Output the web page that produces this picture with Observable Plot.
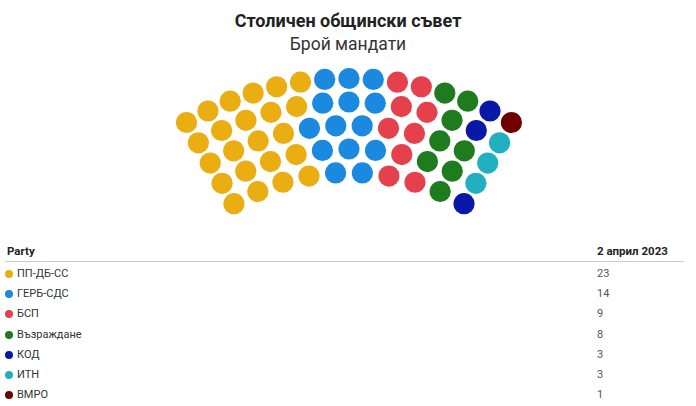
<!DOCTYPE html>
<html>
<head>
<meta charset="utf-8">
<script src="https://cdn.jsdelivr.net/npm/d3@7"></script>
<script src="https://cdn.jsdelivr.net/npm/@observablehq/plot@0.6"></script>
<style>
  html, body { margin: 0; padding: 0; background: #fff; }
  body { width: 696px; height: 406px; position: relative; overflow: hidden; font-family: Roboto, "Noto Sans", sans-serif; color: #333; }
  .title { position: absolute; left: 0; width: 696px; top: 10px; text-align: center; font-weight: 700; font-size: 18px; color: #222; }
  .subtitle { position: absolute; left: 0; width: 696px; top: 34px; text-align: center; font-size: 17.5px; color: #333; }
  #chart { position: absolute; left: 0; top: 60px; }
  .hdr { position: absolute; top: 244px; font-weight: 700; font-size: 11.5px; color: #222; }
  .rule { position: absolute; left: 5px; width: 679px; top: 261px; height: 0; border-top: 1px solid #ccc; }
  .row { position: absolute; left: 0; width: 696px; font-size: 11px; color: #333; height: 14px; }
  .row .dot { position: absolute; left: 5px; top: 3px; width: 8px; height: 8px; border-radius: 50%; }
  .row .lab { position: absolute; left: 17px; top: 0; }
  .row .val { position: absolute; left: 597px; top: 0; color: #555; }
</style>
</head>
<body>
<div class="title">Столичен общински съвет</div>
<div class="subtitle">Брой мандати</div>
<div id="chart"></div>
<div class="hdr" style="left:7px">Party</div>
<div class="hdr" id="colhdr" style="left:597px"></div>
<div class="rule"></div>
<div id="table"></div>
<script>
// ---- data ----
const parties = ["ПП-ДБ-СС", "ГЕРБ-СДС", "БСП", "Възраждане", "КОД", "ИТН", "ВМРО"];
const seats = [23, 14, 9, 8, 3, 3, 1];
const colors = ["#EAAE12", "#1B89E0", "#E5414C", "#1E7B1E", "#0A18A8", "#20B0C0", "#700000"];
const columnLabel = "2 април 2023";

// ---- layout of the parliament arc (computed, not data) ----
const rowCounts = [15, 13, 12, 11, 10];           // seats per row, outer to inner
const outerR = 322, rowGap = 23.5;
const halfSpan = 30.3 * Math.PI / 180;

const slots = [];
rowCounts.forEach((n, ri) => {
  const r = outerR - ri * rowGap;
  for (let k = 0; k < n; k++) {
    const a = -halfSpan + (2 * halfSpan) * k / (n - 1);
    slots.push({row: ri, r, a: Math.round(a * 1e6) / 1e6});
  }
});
// order from left to right by angle, inner rows first on ties
slots.sort((p, q) => (p.a - q.a) || (q.row - p.row));
let idx = 0;
parties.forEach((p, i) => {
  for (let s = 0; s < seats[i]; s++) {
    const sl = slots[idx++];
    sl.party = p;
  }
});
const seatData = slots.map(s => ({party: s.party, x: s.r * Math.sin(s.a), y: s.r * Math.cos(s.a)}));

const chart = Plot.plot({
  width: 696,
  height: 170,
  margin: 0,
  x: {domain: [-348.5, 347.5], range: [0, 696], axis: null},
  y: {domain: [340, 170], range: [0, 170], axis: null},
  color: {domain: parties, range: colors},
  marks: [
    Plot.dot(seatData, {x: "x", y: "y", r: 10.6, fill: "party", stroke: null})
  ]
});
document.getElementById("chart").appendChild(chart);

// ---- table ----
document.getElementById("colhdr").textContent = columnLabel;
const table = document.getElementById("table");
const rowTops = 267, rowStep = 20.2;
parties.forEach((p, i) => {
  const row = document.createElement("div");
  row.className = "row";
  row.style.top = (rowTops + i * rowStep) + "px";
  row.innerHTML = `<span class="dot" style="background:${colors[i]}"></span><span class="lab">${p}</span><span class="val">${seats[i]}</span>`;
  table.appendChild(row);
});
</script>
</body>
</html>
